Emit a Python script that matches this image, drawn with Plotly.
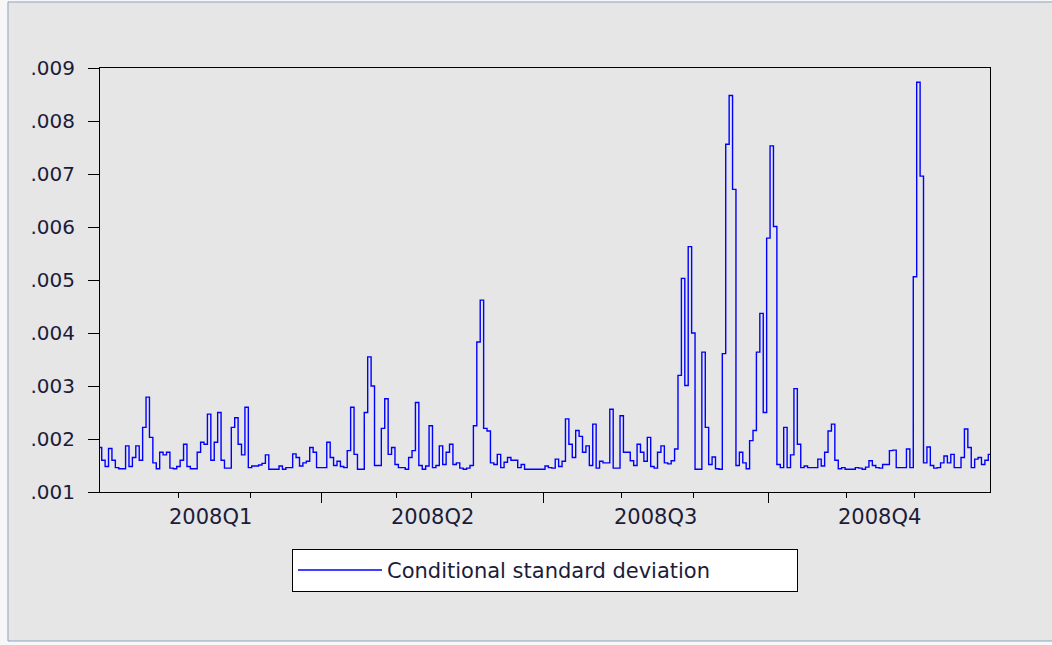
import pandas as pd
import plotly.graph_objects as go

# Daily (business-day) observations for 2008, plotted at equal spacing
dates = pd.bdate_range("2008-01-01", "2008-12-31")

cond_sd = [
    0.00184, 0.00160, 0.00148, 0.00182, 0.00160, 0.00146, 0.00144, 0.00144, 0.00187, 0.00148,
    0.00165, 0.00187, 0.00160, 0.00222, 0.00279, 0.00203, 0.00155, 0.00144, 0.00175, 0.00170,
    0.00175, 0.00145, 0.00144, 0.00148, 0.00160, 0.00190, 0.00148, 0.00144, 0.00144, 0.00175,
    0.00194, 0.00190, 0.00247, 0.00160, 0.00194, 0.00250, 0.00160, 0.00145, 0.00145, 0.00222,
    0.00240, 0.00190, 0.00170, 0.00260, 0.00146, 0.00149, 0.00149, 0.00151, 0.00154, 0.00170,
    0.00143, 0.00143, 0.00143, 0.00149, 0.00143, 0.00146, 0.00146, 0.00172, 0.00165, 0.00149,
    0.00155, 0.00158, 0.00184, 0.00175, 0.00146, 0.00146, 0.00146, 0.00194, 0.00165, 0.00150,
    0.00158, 0.00148, 0.00146, 0.00178, 0.00260, 0.00171, 0.00143, 0.00143, 0.00250, 0.00355,
    0.00300, 0.00150, 0.00150, 0.00220, 0.00276, 0.00171, 0.00184, 0.00152, 0.00146, 0.00146,
    0.00143, 0.00165, 0.00178, 0.00269, 0.00150, 0.00143, 0.00149, 0.00225, 0.00146, 0.00150,
    0.00187, 0.00152, 0.00175, 0.00190, 0.00152, 0.00155, 0.00145, 0.00143, 0.00145, 0.00150,
    0.00225, 0.00383, 0.00462, 0.00220, 0.00215, 0.00155, 0.00152, 0.00171, 0.00146, 0.00156,
    0.00165, 0.00160, 0.00160, 0.00146, 0.00152, 0.00143, 0.00143, 0.00143, 0.00143, 0.00143,
    0.00143, 0.00149, 0.00146, 0.00145, 0.00162, 0.00148, 0.00158, 0.00238, 0.00190, 0.00165,
    0.00216, 0.00205, 0.00175, 0.00187, 0.00150, 0.00228, 0.00145, 0.00158, 0.00155, 0.00155,
    0.00256, 0.00145, 0.00145, 0.00244, 0.00175, 0.00175, 0.00159, 0.00150, 0.00190, 0.00175,
    0.00158, 0.00203, 0.00148, 0.00145, 0.00175, 0.00187, 0.00155, 0.00153, 0.00159, 0.00181,
    0.00320, 0.00503, 0.00301, 0.00563, 0.00400, 0.00143, 0.00143, 0.00364, 0.00222, 0.00152,
    0.00166, 0.00144, 0.00143, 0.00361, 0.00756, 0.00848, 0.00671, 0.00150, 0.00175, 0.00155,
    0.00144, 0.00197, 0.00216, 0.00364, 0.00437, 0.00250, 0.00579, 0.00753, 0.00601, 0.00152,
    0.00146, 0.00222, 0.00146, 0.00170, 0.00295, 0.00190, 0.00146, 0.00149, 0.00146, 0.00146,
    0.00146, 0.00162, 0.00149, 0.00175, 0.00215, 0.00228, 0.00160, 0.00144, 0.00146, 0.00143,
    0.00143, 0.00143, 0.00146, 0.00145, 0.00143, 0.00147, 0.00159, 0.00150, 0.00146, 0.00145,
    0.00152, 0.00152, 0.00178, 0.00179, 0.00146, 0.00146, 0.00146, 0.00181, 0.00146, 0.00506,
    0.00873, 0.00696, 0.00155, 0.00185, 0.00150, 0.00145, 0.00146, 0.00155, 0.00168, 0.00155,
    0.00171, 0.00146, 0.00146, 0.00165, 0.00219, 0.00184, 0.00146, 0.00162, 0.00165, 0.00152,
    0.00160, 0.00171,
]

series_name = "Conditional standard deviation"

y_tickvals = [0.001, 0.002, 0.003, 0.004, 0.005, 0.006, 0.007, 0.008, 0.009]
y_ticktext = [".001", ".002", ".003", ".004", ".005", ".006", ".007", ".008", ".009"]

quarter_starts = ["2008-04-01", "2008-07-01", "2008-10-01"]
month_starts = ["2008-02-01", "2008-03-01", "2008-05-01", "2008-06-01",
                "2008-08-01", "2008-09-01", "2008-11-01", "2008-12-01"]
quarter_labels = ["2008Q1", "2008Q2", "2008Q3", "2008Q4"]

# observation-number axis: each business day takes one equal slot
obs = list(range(len(cond_sd)))
last_obs = len(cond_sd) - 1


def obs_of(day):
    return int(dates.searchsorted(pd.Timestamp(day)))


quarter_ticks = [obs_of(d) for d in quarter_starts]
month_ticks = [obs_of(d) for d in month_starts]
bounds = [0] + quarter_ticks + [last_obs]
quarter_centres = [(a + b) / 2 for a, b in zip(bounds[:-1], bounds[1:])]

FONT = "DejaVu Sans"
TEXT_COLOR = "#1c1c3a"

fig = go.Figure()
fig.add_trace(go.Scatter(
    x=obs, y=cond_sd, mode="lines", name=series_name,
    customdata=[d.strftime("%Y-%m-%d") for d in dates],
    hovertemplate="%{customdata}: %{y:.5f}<extra></extra>",
    line=dict(color="#0000ff", width=1.4, shape="hvh"),
    showlegend=True,
))

# grey panel with a thin frame behind the plot area
fig.add_shape(type="rect", xref="paper", yref="paper",
              x0=-0.1034, x1=1.08, y0=-0.3514, y1=1.1557,
              fillcolor="#e6e6e6", line=dict(color="#8ca2c2", width=1),
              layer="below")

for xm, lab in zip(quarter_centres, quarter_labels):
    fig.add_annotation(x=xm, y=-0.059, xref="x", yref="paper", text=lab,
                       showarrow=False, yanchor="middle", xanchor="center",
                       font=dict(family=FONT, size=21, color=TEXT_COLOR))

fig.update_layout(
    width=1052, height=645,
    margin=dict(l=100, r=62, t=68, b=153, pad=0),
    paper_bgcolor="#f7f7f7",
    plot_bgcolor="#ffffff",
    showlegend=True,
    legend=dict(
        orientation="h", x=0.5, xanchor="center", y=-0.134, yanchor="top",
        bgcolor="#ffffff", bordercolor="#000000", borderwidth=1,
        font=dict(family=FONT, size=21, color=TEXT_COLOR),
        itemwidth=84, entrywidth=405,
    ),
    xaxis=dict(
        range=[0, last_obs],
        showline=True, linecolor="#000000", linewidth=1, mirror=True,
        showgrid=False, zeroline=False,
        ticks="outside", tickvals=quarter_ticks, ticklen=10, tickwidth=1,
        tickcolor="#000000", showticklabels=False,
        minor=dict(tickvals=month_ticks, ticks="outside", ticklen=5,
                   tickwidth=1, tickcolor="#000000", showgrid=False),
    ),
    yaxis=dict(
        range=[0.001, 0.009],
        showline=True, linecolor="#000000", linewidth=1, mirror=True,
        showgrid=False, zeroline=False,
        ticks="outside", tickvals=y_tickvals, ticktext=y_ticktext,
        ticklen=11, tickwidth=1, tickcolor="#000000", ticklabelstandoff=9,
        tickfont=dict(family=FONT, size=20, color=TEXT_COLOR),
    ),
)

fig.write_html("out.html")
